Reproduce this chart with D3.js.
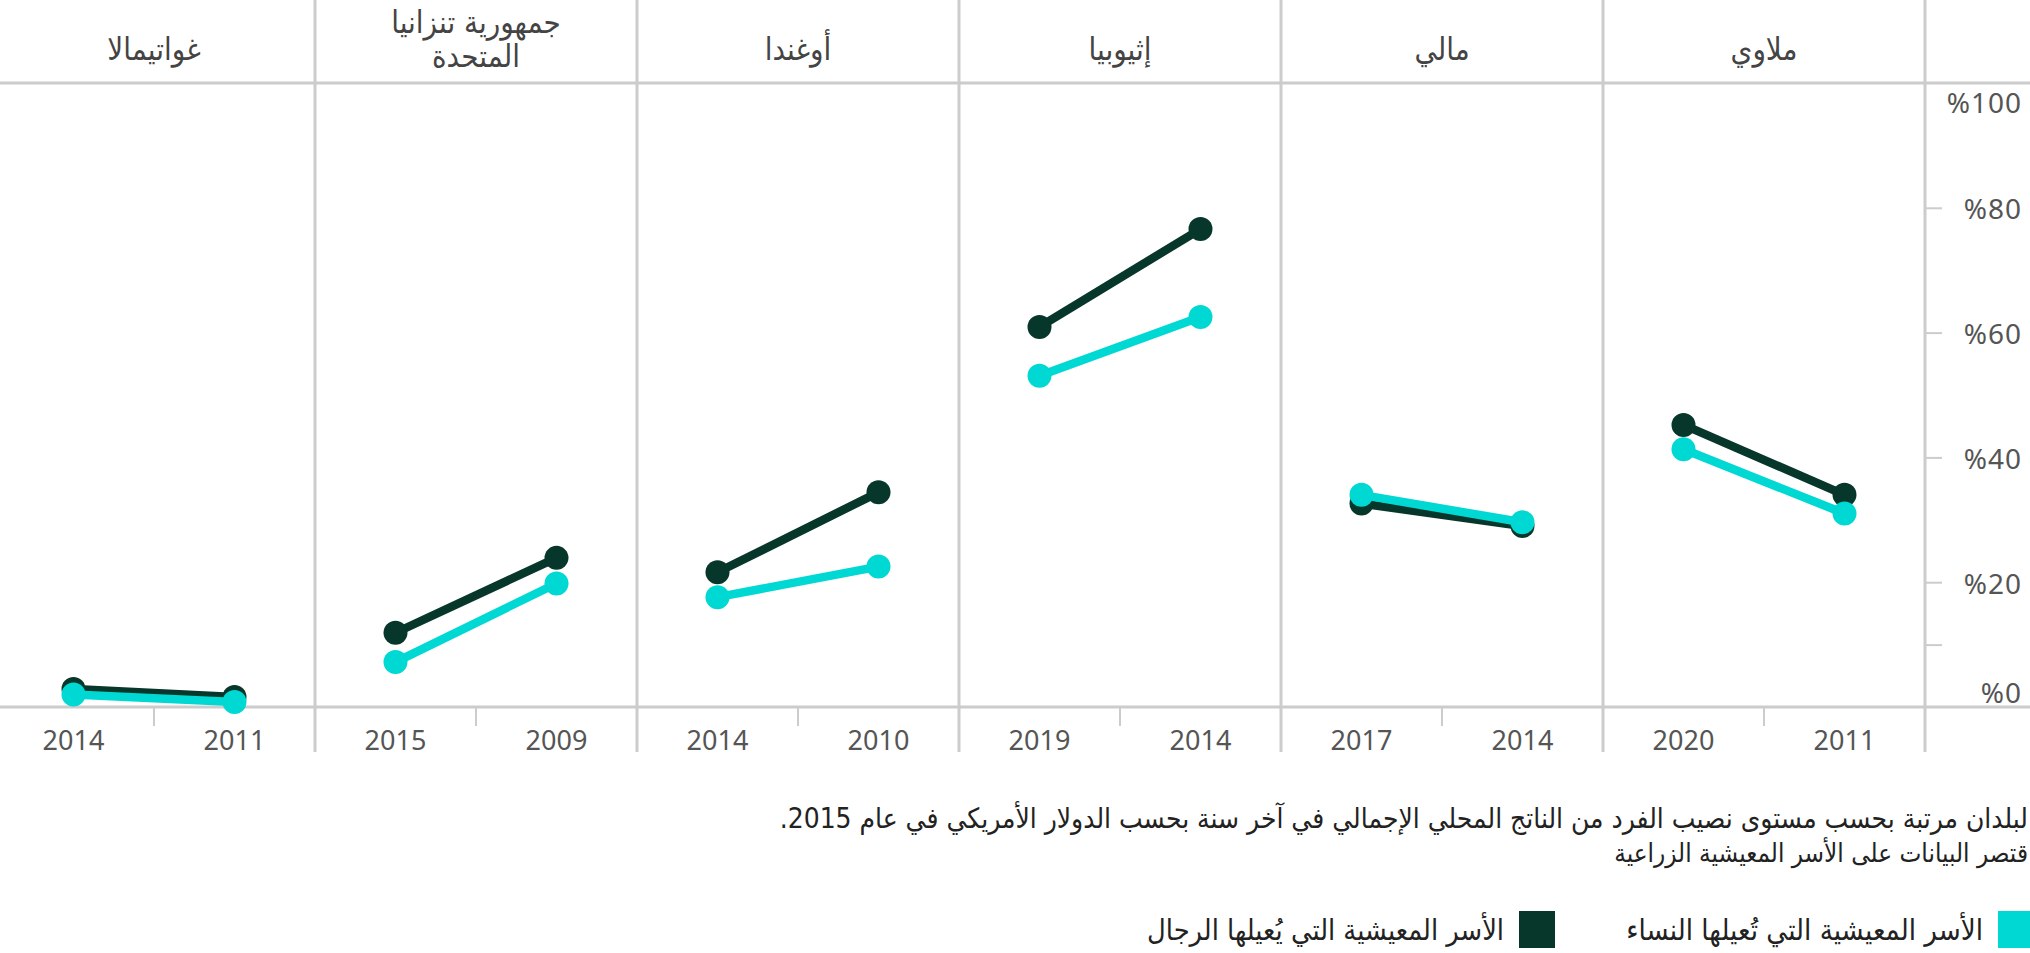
<!DOCTYPE html>
<html>
<head>
<meta charset="utf-8">
<script src="https://cdn.jsdelivr.net/npm/d3@7/dist/d3.min.js"></script>
<style>
  body { margin: 0; background: #fff; overflow: hidden; }
  text { font-family: "DejaVu Sans Condensed", "DejaVu Sans", sans-serif; }
  .num { font-family: "Noto Sans", "Open Sans", sans-serif; }
</style>
</head>
<body>
<svg id="chart"></svg>
<script>
// countries ranked by GDP per capita, shown right to left
var countries = ["ملاوي", "مالي", "إثيوبيا", "أوغندا", "جمهورية تنزانيا المتحدة", "غواتيمالا"];
var headerLines = [["ملاوي"], ["مالي"], ["إثيوبيا"], ["أوغندا"], ["جمهورية تنزانيا", "المتحدة"], ["غواتيمالا"]];
var yearEarly = [2011, 2014, 2014, 2010, 2009, 2011];
var yearLate  = [2020, 2017, 2019, 2014, 2015, 2014];

// share of households (%), women-headed / men-headed
var womenEarly = [31.0, 29.6, 62.5, 22.5, 19.8, 0.8];
var womenLate  = [41.3, 34.0, 53.1, 17.6, 7.2, 2.0];
var menEarly   = [34.0, 29.0, 76.6, 34.4, 23.9, 1.6];
var menLate    = [45.2, 32.6, 60.9, 21.6, 11.9, 2.9];

var yTicks = [0, 10, 20, 40, 60, 80, 100];
var yLabelled = [0, 20, 40, 60, 80, 100];

var notes = [
  "لبلدان مرتبة بحسب مستوى نصيب الفرد من الناتج المحلي الإجمالي في آخر سنة بحسب الدولار الأمريكي في عام 2015.\u200F",
  "قتصر البيانات على الأسر المعيشية الزراعية"
];
var legendLabels = ["الأسر المعيشية التي تُعيلها النساء", "الأسر المعيشية التي يُعيلها الرجال"];

var colWomen = "#00d8d3", colMen = "#07362a", grid = "#cccccc";

var W = 2030, H = 953;
var topY = 83, baseY = 707, axisX = 1925;

var svg = d3.select("#chart").attr("width", W).attr("height", H);

var panel = d3.scaleBand().domain(countries).range([axisX, -7]);
var bw = panel.bandwidth();
var xi = d3.scalePoint().domain(["late", "early"]).range([0, bw]).padding(0.5);
var y = d3.scaleLinear().domain([0, 100]).range([baseY, topY]);

// grid frame
svg.append("g").selectAll("line")
  .data(countries.slice(0, 5))
  .join("line")
    .attr("x1", function(c) { return panel(c); })
    .attr("x2", function(c) { return panel(c); })
    .attr("y1", 0).attr("y2", 752)
    .attr("stroke", grid).attr("stroke-width", 3);
svg.append("line")
  .attr("x1", axisX).attr("x2", axisX).attr("y1", 0).attr("y2", 752)
  .attr("stroke", grid).attr("stroke-width", 3);
svg.append("g").selectAll("line")
  .data([100, 0])
  .join("line")
    .attr("x1", 0).attr("x2", W)
    .attr("y1", function(d) { return y(d); })
    .attr("y2", function(d) { return y(d); })
    .attr("stroke", grid).attr("stroke-width", 3);

// y axis
var yAxis = svg.append("g")
  .attr("transform", "translate(" + axisX + ",0)")
  .call(d3.axisRight(y).tickValues(yTicks).tickSize(17)
    .tickFormat(function(d) { return yLabelled.indexOf(d) >= 0 ? "%" + d : ""; }));
yAxis.select(".domain").remove();
yAxis.selectAll(".tick line")
  .attr("stroke", grid).attr("stroke-width", 2)
  .filter(function(d) { return d == 0 || d == 100; }).remove();
yAxis.selectAll(".tick text")
  .attr("class", "num")
  .attr("x", 97).attr("dy", null)
  .attr("text-anchor", "end")
  .attr("dominant-baseline", "central")
  .attr("font-size", 28).attr("fill", "#555")
  .attr("letter-spacing", 1)
  .attr("y", function(d) { return d == 100 ? 18 : d == 0 ? -16 : 0; });

// header names
countries.forEach(function(c, i) {
  var lines = headerLines[i];
  var cx = panel(c) + bw / 2;
  var t = svg.append("text")
    .attr("x", cx).attr("text-anchor", "middle")
    .attr("font-size", 31).attr("fill", "#444");
  lines.forEach(function(l, j) {
    var cy = lines.length == 1 ? 49 : 22 + j * 34;
    t.append("tspan").attr("x", cx).attr("y", cy)
      .attr("dominant-baseline", "central").text(l);
  });
});

// x ticks + years
countries.forEach(function(c, i) {
  var x0 = panel(c);
  svg.append("line")
    .attr("x1", x0 + bw / 2).attr("x2", x0 + bw / 2)
    .attr("y1", baseY).attr("y2", 726)
    .attr("stroke", grid).attr("stroke-width", 2);
  [["late", yearLate[i]], ["early", yearEarly[i]]].forEach(function(p) {
    svg.append("text").attr("class", "num")
      .attr("x", x0 + xi(p[0])).attr("y", 739)
      .attr("text-anchor", "middle").attr("dominant-baseline", "central")
      .attr("font-size", 27).attr("fill", "#555")
      .text(p[1]);
  });
});

// series
var line = d3.line().x(function(d) { return d.x; }).y(function(d) { return d.y; });
var series = [
  { color: colMen, early: menEarly, late: menLate },
  { color: colWomen, early: womenEarly, late: womenLate }
];
series.forEach(function(s) {
  var g = svg.append("g");
  countries.forEach(function(c, i) {
    var pts = [
      { x: panel(c) + xi("late"), y: y(s.late[i]) },
      { x: panel(c) + xi("early"), y: y(s.early[i]) }
    ];
    g.append("path").datum(pts)
      .attr("d", line).attr("fill", "none")
      .attr("stroke", s.color).attr("stroke-width", 8.5);
    g.selectAll(null).data(pts).join("circle")
      .attr("cx", function(d) { return d.x; })
      .attr("cy", function(d) { return d.y; })
      .attr("r", 12).attr("fill", s.color);
  });
});

function fit(sel, target) {
  var w = sel.node().getComputedTextLength();
  sel.attr("font-size", +sel.attr("font-size") * target / w);
}

// notes
var noteWidths = [1249, 414];
notes.forEach(function(n, i) {
  var t = svg.append("text")
    .attr("x", 2028).attr("y", 818 + i * 35)
    .attr("text-anchor", "end").attr("dominant-baseline", "central")
    .attr("font-size", 22).attr("fill", "#222")
    .text(n);
  fit(t, noteWidths[i]);
});

// legend
var legX = [1998, 1519], legTextX = [1983, 1504];
[colWomen, colMen].forEach(function(col, i) {
  svg.append("rect")
    .attr("x", legX[i]).attr("y", 911)
    .attr("width", 36).attr("height", 37).attr("fill", col);
  var t = svg.append("text")
    .attr("x", legTextX[i]).attr("y", 930)
    .attr("text-anchor", "end").attr("dominant-baseline", "central")
    .attr("font-size", 22).attr("fill", "#222")
    .text(legendLabels[i]);
  fit(t, 357);
});
</script>
</body>
</html>
